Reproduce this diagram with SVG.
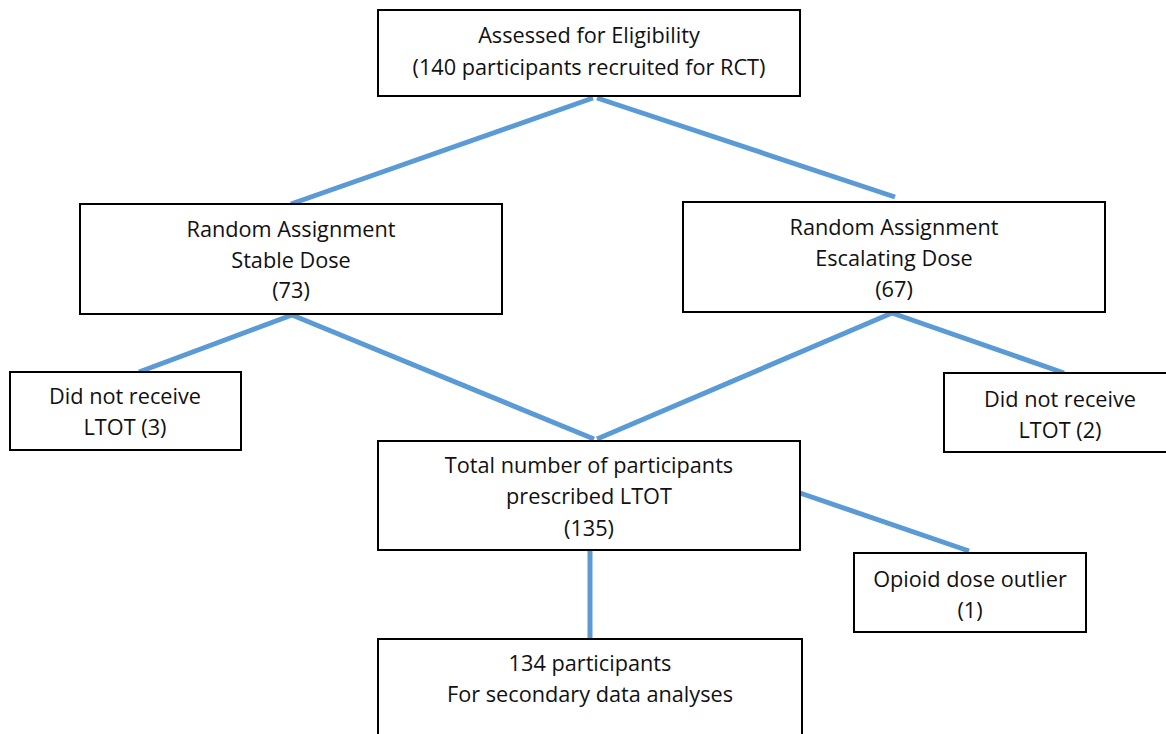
<svg xmlns="http://www.w3.org/2000/svg" width="1166" height="734" viewBox="0 0 1166 734">
<style>
.box{fill:#fff;stroke:#000;stroke-width:2}
.t{font-family:"Open Sans","Liberation Sans",sans-serif;font-size:21.7px;fill:#111;text-anchor:middle}
.c{stroke:#5B9BD5;stroke-width:5;fill:none}
</style>
<rect width="1166" height="734" fill="#fff"/>
<g id="connectors">
<line class="c" x1="593" y1="98" x2="291" y2="204"/>
<line class="c" x1="597" y1="98" x2="895" y2="197"/>
<line class="c" x1="292" y1="315" x2="139" y2="372"/>
<line class="c" x1="292" y1="315" x2="594" y2="439"/>
<line class="c" x1="892" y1="313" x2="597" y2="439"/>
<line class="c" x1="892" y1="313" x2="1064" y2="373"/>
<line class="c" x1="800" y1="493" x2="969" y2="551"/>
<line class="c" x1="590" y1="551" x2="590" y2="638"/>
</g>
<g id="eligibility">
<rect class="box" x="378" y="10" width="422" height="86"/>
<text class="t" x="589" y="43">Assessed for Eligibility</text>
<text class="t" x="589" y="75">(140 participants recruited for RCT)</text>
</g>
<g id="stable">
<rect class="box" x="80" y="204" width="422" height="110"/>
<text class="t" x="291" y="237">Random Assignment</text>
<text class="t" x="291" y="268">Stable Dose</text>
<text class="t" x="291" y="298">(73)</text>
</g>
<g id="escalating">
<rect class="box" x="683" y="202" width="422" height="110"/>
<text class="t" x="894" y="235">Random Assignment</text>
<text class="t" x="894" y="266">Escalating Dose</text>
<text class="t" x="894" y="297">(67)</text>
</g>
<g id="noltot3">
<rect class="box" x="10" y="372" width="231" height="78"/>
<text class="t" x="125" y="404">Did not receive</text>
<text class="t" x="125" y="435">LTOT (3)</text>
</g>
<g id="noltot2">
<rect class="box" x="944" y="373" width="230" height="79"/>
<text class="t" x="1060" y="407">Did not receive</text>
<text class="t" x="1060" y="438">LTOT (2)</text>
</g>
<g id="total">
<rect class="box" x="378" y="441" width="422" height="109"/>
<text class="t" x="589" y="473">Total number of participants</text>
<text class="t" x="589" y="504">prescribed LTOT</text>
<text class="t" x="589" y="536">(135)</text>
</g>
<g id="outlier">
<rect class="box" x="854" y="553" width="232" height="79"/>
<text class="t" x="970" y="587">Opioid dose outlier</text>
<text class="t" x="970" y="618">(1)</text>
</g>
<g id="final">
<rect class="box" x="378" y="639" width="424" height="110"/>
<text class="t" x="590" y="671">134 participants</text>
<text class="t" x="590" y="702">For secondary data analyses</text>
</g>
</svg>
